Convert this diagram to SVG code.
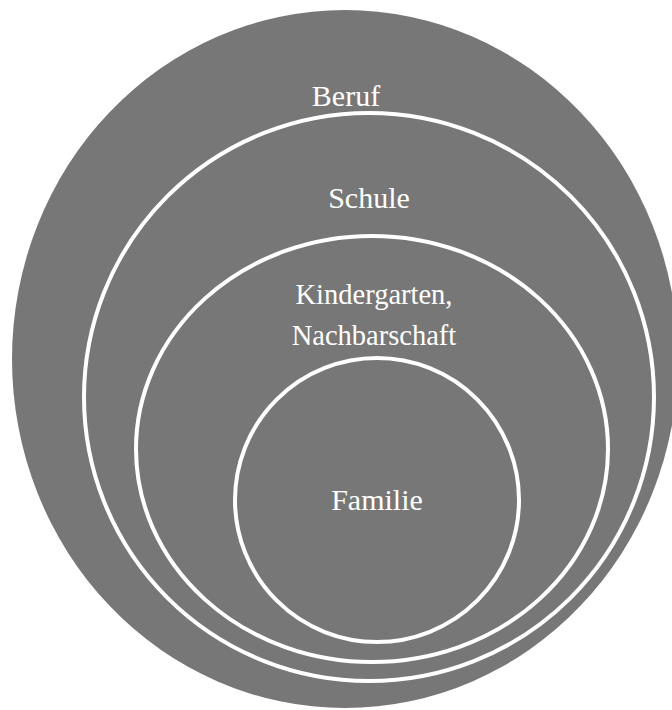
<svg xmlns="http://www.w3.org/2000/svg" width="672" height="710" viewBox="0 0 672 710">
<style>
.area{fill:#777777;}
.ring{fill:#777777;stroke:#ffffff;stroke-width:4;}
.lbl{font-family:"Liberation Serif","Times New Roman",serif;fill:#ffffff;text-anchor:middle;}
.big{font-size:30px;}
.mid{font-size:28.5px;}
</style>
<g id="beruf">
<ellipse class="area" cx="345" cy="359" rx="333" ry="349"/>
<text class="lbl big" x="346" y="106">Beruf</text>
</g>
<g id="schule">
<ellipse class="ring" cx="369" cy="397" rx="285" ry="284"/>
<text class="lbl big" x="369" y="208">Schule</text>
</g>
<g id="kindergarten">
<ellipse class="ring" cx="372" cy="449" rx="236" ry="213"/>
<text class="lbl mid" x="374" y="304">Kindergarten,</text>
<text class="lbl mid" x="374" y="345">Nachbarschaft</text>
</g>
<g id="familie">
<ellipse class="ring" cx="377" cy="500" rx="142" ry="142"/>
<text class="lbl big" x="377" y="510">Familie</text>
</g>
<g id="connectors"></g>
</svg>
